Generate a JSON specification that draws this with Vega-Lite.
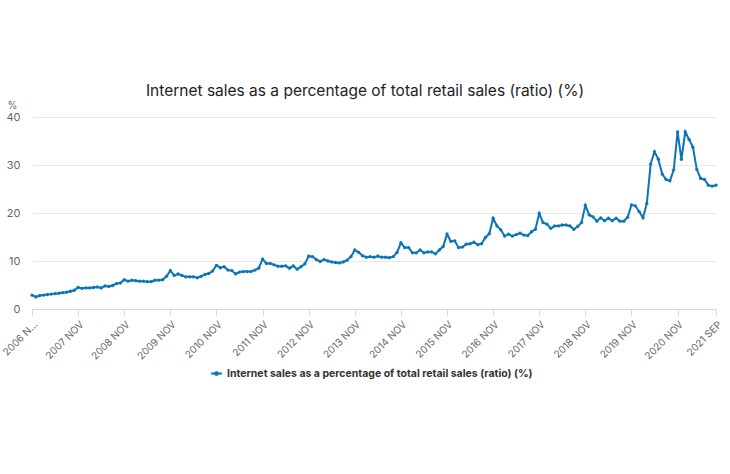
{
  "$schema": "https://vega.github.io/schema/vega-lite/v6.json",
  "width": 684,
  "height": 192,
  "autosize": {"type": "none"},
  "padding": {"left": 32, "top": 117, "right": 14, "bottom": 165},
  "background": "white",
  "title": {
    "text": "Internet sales as a percentage of total retail sales (ratio) (%)",
    "font": "Inter",
    "fontSize": 15.5,
    "fontWeight": "normal",
    "color": "#222222",
    "anchor": "middle",
    "offset": 18,
    "dy": 17,
    "dx": -9
  },
  "data": {
    "values": [
      {"month": "2006 NOV", "value": 2.9}, {"month": "2006 DEC", "value": 2.5},
      {"month": "2007 JAN", "value": 2.8}, {"month": "2007 FEB", "value": 2.9}, {"month": "2007 MAR", "value": 3.0}, {"month": "2007 APR", "value": 3.1}, {"month": "2007 MAY", "value": 3.2}, {"month": "2007 JUN", "value": 3.3}, {"month": "2007 JUL", "value": 3.4}, {"month": "2007 AUG", "value": 3.5}, {"month": "2007 SEP", "value": 3.7}, {"month": "2007 OCT", "value": 3.9}, {"month": "2007 NOV", "value": 4.5}, {"month": "2007 DEC", "value": 4.3},
      {"month": "2008 JAN", "value": 4.4}, {"month": "2008 FEB", "value": 4.4}, {"month": "2008 MAR", "value": 4.5}, {"month": "2008 APR", "value": 4.6}, {"month": "2008 MAY", "value": 4.4}, {"month": "2008 JUN", "value": 4.8}, {"month": "2008 JUL", "value": 4.7}, {"month": "2008 AUG", "value": 4.9}, {"month": "2008 SEP", "value": 5.3}, {"month": "2008 OCT", "value": 5.4}, {"month": "2008 NOV", "value": 6.1}, {"month": "2008 DEC", "value": 5.8},
      {"month": "2009 JAN", "value": 6.0}, {"month": "2009 FEB", "value": 5.9}, {"month": "2009 MAR", "value": 5.8}, {"month": "2009 APR", "value": 5.8}, {"month": "2009 MAY", "value": 5.7}, {"month": "2009 JUN", "value": 5.7}, {"month": "2009 JUL", "value": 6.0}, {"month": "2009 AUG", "value": 6.0}, {"month": "2009 SEP", "value": 6.1}, {"month": "2009 OCT", "value": 6.8}, {"month": "2009 NOV", "value": 8.0}, {"month": "2009 DEC", "value": 7.0},
      {"month": "2010 JAN", "value": 7.3}, {"month": "2010 FEB", "value": 7.0}, {"month": "2010 MAR", "value": 6.7}, {"month": "2010 APR", "value": 6.7}, {"month": "2010 MAY", "value": 6.7}, {"month": "2010 JUN", "value": 6.5}, {"month": "2010 JUL", "value": 6.8}, {"month": "2010 AUG", "value": 7.2}, {"month": "2010 SEP", "value": 7.4}, {"month": "2010 OCT", "value": 7.9}, {"month": "2010 NOV", "value": 9.1}, {"month": "2010 DEC", "value": 8.6},
      {"month": "2011 JAN", "value": 8.8}, {"month": "2011 FEB", "value": 8.1}, {"month": "2011 MAR", "value": 8.0}, {"month": "2011 APR", "value": 7.3}, {"month": "2011 MAY", "value": 7.7}, {"month": "2011 JUN", "value": 7.8}, {"month": "2011 JUL", "value": 7.8}, {"month": "2011 AUG", "value": 7.8}, {"month": "2011 SEP", "value": 8.1}, {"month": "2011 OCT", "value": 8.5}, {"month": "2011 NOV", "value": 10.4}, {"month": "2011 DEC", "value": 9.5},
      {"month": "2012 JAN", "value": 9.5}, {"month": "2012 FEB", "value": 9.2}, {"month": "2012 MAR", "value": 8.9}, {"month": "2012 APR", "value": 8.9}, {"month": "2012 MAY", "value": 9.0}, {"month": "2012 JUN", "value": 8.5}, {"month": "2012 JUL", "value": 9.0}, {"month": "2012 AUG", "value": 8.3}, {"month": "2012 SEP", "value": 8.8}, {"month": "2012 OCT", "value": 9.4}, {"month": "2012 NOV", "value": 11.0}, {"month": "2012 DEC", "value": 10.9},
      {"month": "2013 JAN", "value": 10.3}, {"month": "2013 FEB", "value": 9.9}, {"month": "2013 MAR", "value": 10.3}, {"month": "2013 APR", "value": 10.0}, {"month": "2013 MAY", "value": 9.8}, {"month": "2013 JUN", "value": 9.7}, {"month": "2013 JUL", "value": 9.6}, {"month": "2013 AUG", "value": 9.8}, {"month": "2013 SEP", "value": 10.2}, {"month": "2013 OCT", "value": 10.9}, {"month": "2013 NOV", "value": 12.3}, {"month": "2013 DEC", "value": 11.8},
      {"month": "2014 JAN", "value": 11.1}, {"month": "2014 FEB", "value": 10.8}, {"month": "2014 MAR", "value": 10.9}, {"month": "2014 APR", "value": 10.8}, {"month": "2014 MAY", "value": 11.0}, {"month": "2014 JUN", "value": 10.8}, {"month": "2014 JUL", "value": 10.8}, {"month": "2014 AUG", "value": 10.7}, {"month": "2014 SEP", "value": 10.9}, {"month": "2014 OCT", "value": 11.8}, {"month": "2014 NOV", "value": 13.8}, {"month": "2014 DEC", "value": 12.8},
      {"month": "2015 JAN", "value": 12.8}, {"month": "2015 FEB", "value": 11.7}, {"month": "2015 MAR", "value": 11.7}, {"month": "2015 APR", "value": 12.3}, {"month": "2015 MAY", "value": 11.7}, {"month": "2015 JUN", "value": 11.9}, {"month": "2015 JUL", "value": 11.9}, {"month": "2015 AUG", "value": 11.5}, {"month": "2015 SEP", "value": 12.3}, {"month": "2015 OCT", "value": 13.0}, {"month": "2015 NOV", "value": 15.6}, {"month": "2015 DEC", "value": 14.1},
      {"month": "2016 JAN", "value": 14.2}, {"month": "2016 FEB", "value": 12.8}, {"month": "2016 MAR", "value": 12.9}, {"month": "2016 APR", "value": 13.5}, {"month": "2016 MAY", "value": 13.6}, {"month": "2016 JUN", "value": 13.9}, {"month": "2016 JUL", "value": 13.4}, {"month": "2016 AUG", "value": 13.6}, {"month": "2016 SEP", "value": 14.9}, {"month": "2016 OCT", "value": 15.7}, {"month": "2016 NOV", "value": 18.9}, {"month": "2016 DEC", "value": 17.3},
      {"month": "2017 JAN", "value": 16.5}, {"month": "2017 FEB", "value": 15.2}, {"month": "2017 MAR", "value": 15.6}, {"month": "2017 APR", "value": 15.2}, {"month": "2017 MAY", "value": 15.5}, {"month": "2017 JUN", "value": 15.8}, {"month": "2017 JUL", "value": 15.4}, {"month": "2017 AUG", "value": 15.3}, {"month": "2017 SEP", "value": 16.1}, {"month": "2017 OCT", "value": 16.6}, {"month": "2017 NOV", "value": 19.9}, {"month": "2017 DEC", "value": 18.0},
      {"month": "2018 JAN", "value": 17.7}, {"month": "2018 FEB", "value": 16.8}, {"month": "2018 MAR", "value": 17.3}, {"month": "2018 APR", "value": 17.3}, {"month": "2018 MAY", "value": 17.5}, {"month": "2018 JUN", "value": 17.5}, {"month": "2018 JUL", "value": 17.3}, {"month": "2018 AUG", "value": 16.6}, {"month": "2018 SEP", "value": 17.2}, {"month": "2018 OCT", "value": 18.0}, {"month": "2018 NOV", "value": 21.6}, {"month": "2018 DEC", "value": 19.6},
      {"month": "2019 JAN", "value": 19.2}, {"month": "2019 FEB", "value": 18.3}, {"month": "2019 MAR", "value": 19.0}, {"month": "2019 APR", "value": 18.4}, {"month": "2019 MAY", "value": 18.9}, {"month": "2019 JUN", "value": 18.4}, {"month": "2019 JUL", "value": 18.9}, {"month": "2019 AUG", "value": 18.3}, {"month": "2019 SEP", "value": 18.3}, {"month": "2019 OCT", "value": 19.1}, {"month": "2019 NOV", "value": 21.7}, {"month": "2019 DEC", "value": 21.5},
      {"month": "2020 JAN", "value": 20.3}, {"month": "2020 FEB", "value": 19.0}, {"month": "2020 MAR", "value": 22.0}, {"month": "2020 APR", "value": 30.2}, {"month": "2020 MAY", "value": 32.8}, {"month": "2020 JUN", "value": 31.2}, {"month": "2020 JUL", "value": 28.1}, {"month": "2020 AUG", "value": 27.0}, {"month": "2020 SEP", "value": 26.7}, {"month": "2020 OCT", "value": 29.0}, {"month": "2020 NOV", "value": 36.9}, {"month": "2020 DEC", "value": 31.2},
      {"month": "2021 JAN", "value": 36.9}, {"month": "2021 FEB", "value": 35.3}, {"month": "2021 MAR", "value": 33.7}, {"month": "2021 APR", "value": 29.1}, {"month": "2021 MAY", "value": 27.2}, {"month": "2021 JUN", "value": 27.0}, {"month": "2021 JUL", "value": 25.8}, {"month": "2021 AUG", "value": 25.6}, {"month": "2021 SEP", "value": 25.8}
    ]
  },
  "transform": [
    {"calculate": "'Internet sales as a percentage of total retail sales (ratio) (%)'", "as": "series"}
  ],
  "mark": {"type": "line", "strokeWidth": 2, "point": {"size": 11, "filled": true}},
  "encoding": {
    "x": {
      "field": "month",
      "type": "ordinal",
      "sort": null,
      "scale": {"type": "point", "padding": 0},
      "axis": {
        "title": null,
        "values": ["2006 NOV", "2007 NOV", "2008 NOV", "2009 NOV", "2010 NOV", "2011 NOV", "2012 NOV", "2013 NOV", "2014 NOV", "2015 NOV", "2016 NOV", "2017 NOV", "2018 NOV", "2019 NOV", "2020 NOV", "2021 SEP"],
        "labelExpr": "datum.value == '2006 NOV' ? '2006 N…' : datum.value",
        "labelAngle": -45,
        "labelFont": "Inter",
        "labelFontSize": 10,
        "labelColor": "#666666",
        "labelPadding": 4,
        "domainColor": "#d8d8d8",
        "tickColor": "#d8d8d8",
        "tickSize": 6,
        "grid": false
      }
    },
    "y": {
      "field": "value",
      "type": "quantitative",
      "scale": {"domain": [0, 40]},
      "axis": {
        "title": "%",
        "titleAngle": 0,
        "titleX": -20,
        "titleY": -7,
        "titleAlign": "center",
        "titleBaseline": "bottom",
        "titleFont": "Inter",
        "titleFontSize": 10,
        "titleFontWeight": "normal",
        "titleColor": "#666666",
        "values": [0, 10, 20, 30, 40],
        "labelFont": "Inter",
        "labelFontSize": 11,
        "labelColor": "#666666",
        "labelPadding": 12,
        "domain": false,
        "ticks": false,
        "gridColor": "#e9e9e9"
      }
    },
    "color": {
      "field": "series",
      "type": "nominal",
      "scale": {"range": ["#0a76b7"]},
      "legend": {
        "title": null,
        "orient": "none",
        "legendX": 178,
        "legendY": 250,
        "labelFont": "Inter",
        "labelFontSize": 10.5,
        "labelFontWeight": "bold",
        "labelColor": "#333333",
        "labelLimit": 500,
        "symbolType": "M-1,0L1,0M-0.25,0A0.25,0.25 0 1,1 0.25,0A0.25,0.25 0 1,1 -0.25,0",
        "symbolStrokeWidth": 2,
        "symbolSize": 120
      }
    }
  },
  "config": {
    "view": {"stroke": null}
  }
}
